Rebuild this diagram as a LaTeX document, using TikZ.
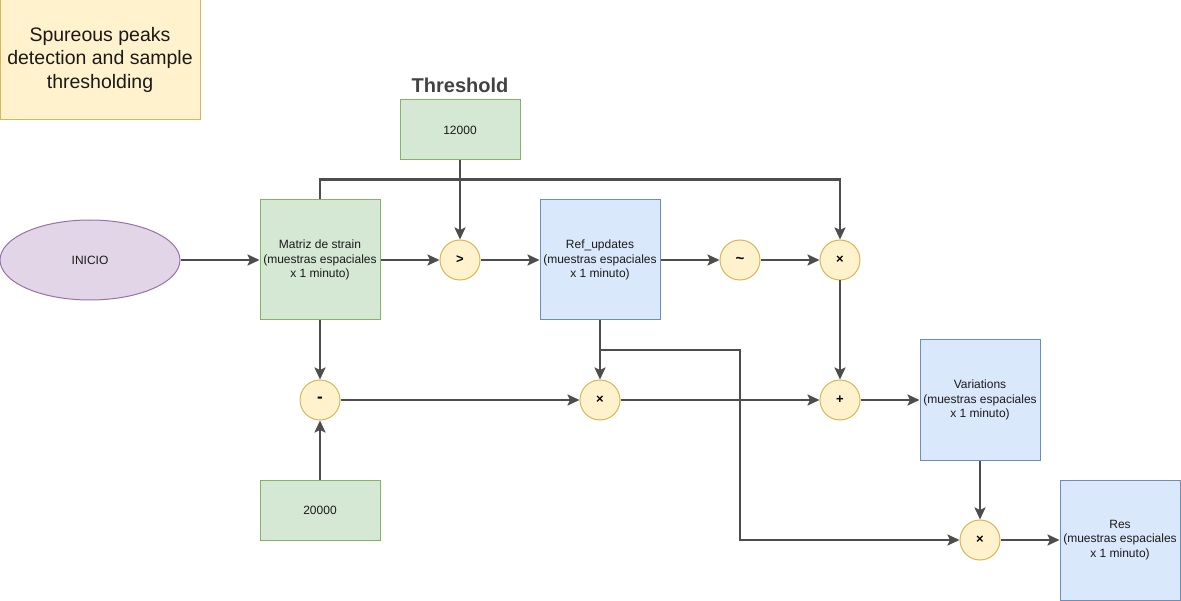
\documentclass[tikz,border=0pt]{standalone}
\usepackage{fontspec}
\setmainfont{Liberation Sans}
\usepackage{tikz}
\usetikzlibrary{positioning,shapes.geometric,arrows.meta}

\definecolor{grfill}{HTML}{D5E8D4}
\definecolor{grline}{HTML}{82B366}
\definecolor{blfill}{HTML}{DAE8FC}
\definecolor{blline}{HTML}{6C8EBF}
\definecolor{ylfill}{HTML}{FFF2CC}
\definecolor{ylline}{HTML}{D6B656}
\definecolor{pufill}{HTML}{E1D5E7}
\definecolor{puline}{HTML}{9673A6}
\definecolor{wire}{HTML}{4D4D4D}
\definecolor{txt}{HTML}{1A1A1A}

\tikzset{
  small/.style={font=\fontsize{12}{14.7}\selectfont, text=txt, align=center},
  box/.style={rectangle, small, draw, line width=1pt, minimum width=120pt, minimum height=120pt, inner sep=0pt},
  greenbox/.style={box, fill=grfill, draw=grline},
  bluebox/.style={box, fill=blfill, draw=blline},
  op/.style={circle, draw=ylline, fill=ylfill, line width=1pt, minimum size=40pt, inner sep=0pt, font=\bfseries\fontsize{13}{13}\selectfont, text=black},
  arr/.style={draw=wire, line width=2.2pt, -{Stealth[inset=2.5pt,length=12pt,width=11pt]}}
}

\begin{document}
\begin{tikzpicture}[x=1pt,y=-1pt,node distance=140pt,on grid]
\useasboundingbox (0,0) rectangle (1181,601);

\node[rectangle, draw=ylline, fill=ylfill, line width=1pt, minimum width=200pt, minimum height=120pt, text=txt, font=\fontsize{19.5}{23.5}\selectfont] (title) at (100,60) {\raisebox{-3pt}{\begin{tabular}{@{}c@{}}Spureous peaks\\detection and sample\\thresholding\end{tabular}}};

\node[greenbox] (matriz) at (320,260) {Matriz de strain\\(muestras espaciales\\x 1 minuto)};
\node[ellipse, draw=puline, fill=pufill, line width=1pt, minimum width=180pt, minimum height=80pt, inner sep=0pt, small] (inicio) [left=230pt of matriz] {INICIO};
\node[op] (gt) [right=of matriz] {>};
\node[bluebox] (ref) [right=of gt] {Ref\_updates\\(muestras espaciales\\x 1 minuto)};
\node[op] (tilde) [right=of ref] {\fontsize{15}{15}\selectfont\raisebox{-1pt}{\textasciitilde}};
\node[op] (mul1) [right=100pt of tilde] {×};
\node[op] (minus) [below=of matriz] {\fontsize{17}{17}\selectfont -};
\node[op] (mul2) [below=of ref] {×};
\node[op] (plus) [below=of mul1] {+};
\node[bluebox] (var) [right=of plus] {Variations\\(muestras espaciales\\x 1 minuto)};
\node[op] (mul3) [below=of var] {×};
\node[bluebox] (res) [right=of mul3] {Res\\(muestras espaciales\\x 1 minuto)};
\node[greenbox, minimum height=60pt] (c20) [below=250pt of matriz] {20000};
\node[greenbox, minimum height=60pt] (c12) [above=130pt of gt] {12000};
\node[font=\bfseries\fontsize{20}{24}\selectfont, text=wire!85!black] (thrlabel) [above=45pt of c12] {Threshold};

\coordinate (split) at (600,350);

% top row
\draw[arr] (inicio) -- (matriz);
\draw[arr] (matriz) -- (gt);
\draw[arr] (c12) -- (gt);
\draw[arr] (matriz.north) -- ++(0,-20) -| (mul1);
\draw[arr] (gt) -- (ref);
\draw[arr] (ref) -- (tilde);
\draw[arr] (tilde) -- (mul1);
\draw[arr] (mul1) -- (plus);

% middle row
\draw[arr] (matriz) -- (minus);
\draw[arr] (c20) -- (minus);
\draw[arr] (minus) -- (mul2);
\draw[arr] (ref) -- (mul2);
\draw[arr] (split) -- ++(140,0) |- (mul3);
\draw[arr] (mul2) -- (plus);
\draw[arr] (plus) -- (var);

% bottom row
\draw[arr] (var) -- (mul3);
\draw[arr] (mul3) -- (res);
\end{tikzpicture}
\end{document}
